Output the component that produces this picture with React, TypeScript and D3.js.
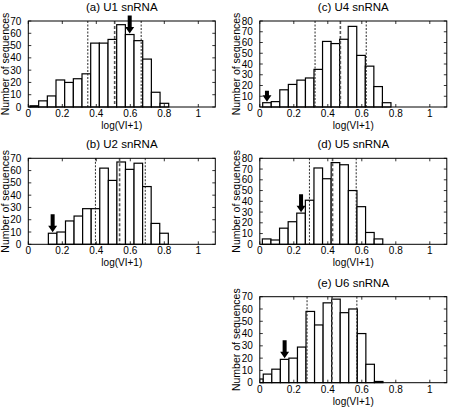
import React from "react";
import * as d3 from "d3";

const titles = ["(a) U1 snRNA", "(b) U2 snRNA", "(c) U4 snRNA", "(d) U5 snRNA", "(e) U6 snRNA"];
const countsU1 = [1, 5, 9, 22, 20, 23, 27, 52, 52, 55, 67, 59, 54, 39, 12, 3];
const countsU2 = [9, 10, 19, 23, 29, 29, 62, 52, 67, 61, 66, 47, 17, 9];
const countsU4 = [4, 5, 16, 21, 25, 27, 35, 61, 59, 63, 75, 48, 38, 19, 4];
const countsU5 = [5, 4, 15, 21, 29, 41, 71, 61, 76, 74, 50, 35, 11, 5];
const countsU6 = [3, 7, 11, 19, 20, 29, 58, 47, 65, 68, 57, 60, 40, 15, 1];
const allCounts = [countsU1, countsU2, countsU4, countsU5, countsU6];
const binStarts = [0.01, 0.118, 0.017, 0.015, -0.03];
const binWidths = [0.051, 0.0504, 0.0503, 0.0506, 0.0503];
const meanSdLines = [
  [0.35, 0.508, 0.664],
  [0.395, 0.537, 0.688],
  [0.325, 0.474, 0.626],
  [0.292, 0.428, 0.567],
  [0.278, 0.425, 0.571],
];
const arrowBins = [11, 0, 0, 4, 3];
const yMaxes = [70, 70, 80, 80, 70];
const xTicks = [0, 0.2, 0.4, 0.6, 0.8, 1];

// layout
const colLeft = [28.3, 259.8];
const rowTop = [21, 158.3, 296.7];
const panelPos = [
  [0, 0],
  [0, 1],
  [1, 0],
  [1, 1],
  [1, 2],
];
const W = 187;
const H = 86;
const font = "'Liberation Sans', Arial, Helvetica, sans-serif";

function Panel({ idx }: { idx: number }) {
  const [c, r] = panelPos[idx];
  const left = colLeft[c];
  const top = rowTop[r];
  const x = d3.scaleLinear().domain([0, 1.1]).range([left, left + W]);
  const y = d3.scaleLinear().domain([0, yMaxes[idx]]).range([top + H, top]);
  const counts = allCounts[idx];
  const b0 = binStarts[idx];
  const bw = binWidths[idx];
  const yTicks = d3.range(0, yMaxes[idx] + 1, 10);
  const clipId = `clip${idx}`;
  const ab = arrowBins[idx];
  const ax = x(b0 + (ab + 0.5) * bw);
  const tipY = y(counts[ab]) - 1;
  const aLen = idx === 2 ? 11 : 18;
  const headL = 6.5;
  const arrowPath = d3.path();
  arrowPath.moveTo(ax - 2, tipY - aLen);
  arrowPath.lineTo(ax + 2, tipY - aLen);
  arrowPath.lineTo(ax + 2, tipY - headL);
  arrowPath.lineTo(ax + 4.5, tipY - headL);
  arrowPath.lineTo(ax, tipY);
  arrowPath.lineTo(ax - 4.5, tipY - headL);
  arrowPath.lineTo(ax - 2, tipY - headL);
  arrowPath.closePath();
  return (
    <g>
      <defs>
        <clipPath id={clipId}>
          <rect x={left} y={top - 1} width={W} height={H + 2} />
        </clipPath>
      </defs>
      <text x={left + W / 2} y={top - 10} textAnchor="middle" fontSize={11.5} fontFamily={font}>
        {titles[idx]}
      </text>
      <g clipPath={`url(#${clipId})`}>
        {counts.map((v, i) => (
          <rect
            key={i}
            x={x(b0 + i * bw)}
            y={y(v)}
            width={x(b0 + (i + 1) * bw) - x(b0 + i * bw)}
            height={y(0) - y(v)}
            fill="#fff"
            stroke="#000"
            strokeWidth={1.2}
          />
        ))}
      </g>
      {meanSdLines[idx].map((v, i) => (
        <line
          key={i}
          x1={x(v)}
          x2={x(v)}
          y1={top}
          y2={top + H}
          stroke={i === 1 ? "#555" : "#111"}
          strokeWidth={i === 1 ? 1.6 : 0.9}
          strokeDasharray={i === 1 ? "3,2" : "2,1.5"}
        />
      ))}
      <rect x={left} y={top} width={W} height={H} fill="none" stroke="#000" strokeWidth={1} />
      {xTicks.map((t) => (
        <g key={t}>
          <line x1={x(t)} x2={x(t)} y1={top + H} y2={top + H - 3} stroke="#000" strokeWidth={0.8} />
          <line x1={x(t)} x2={x(t)} y1={top} y2={top + 3} stroke="#000" strokeWidth={0.8} />
          <text x={x(t)} y={top + H + 10} textAnchor="middle" fontSize={10} fontFamily={font}>
            {String(t)}
          </text>
        </g>
      ))}
      {yTicks.map((t) => (
        <g key={t}>
          <line x1={left} x2={left + 3} y1={y(t)} y2={y(t)} stroke="#000" strokeWidth={0.8} />
          <line x1={left + W} x2={left + W - 3} y1={y(t)} y2={y(t)} stroke="#000" strokeWidth={0.8} />
          <text x={left - 7} y={y(t) + 3.6} textAnchor="end" fontSize={10} fontFamily={font}>
            {t}
          </text>
        </g>
      ))}
      <text x={x(0.55)} y={top + H + 22} textAnchor="middle" fontSize={10} fontFamily={font}>
        log(VI+1)
      </text>
      <text
        transform={`translate(${left - 19.5},${top + H / 2}) rotate(-90)`}
        textAnchor="middle"
        fontSize={10.5}
        fontFamily={font}
      >
        Number of sequences
      </text>
      <path d={arrowPath.toString()} fill="#000" />
    </g>
  );
}

export default function App() {
  return (
    <svg
      width={449}
      height={407}
      style={{ position: "absolute", left: 0, top: 0, background: "#fff" }}
    >
      <rect x={0} y={0} width={449} height={407} fill="#fff" />
      {titles.map((_, i) => (
        <Panel key={i} idx={i} />
      ))}
    </svg>
  );
}
